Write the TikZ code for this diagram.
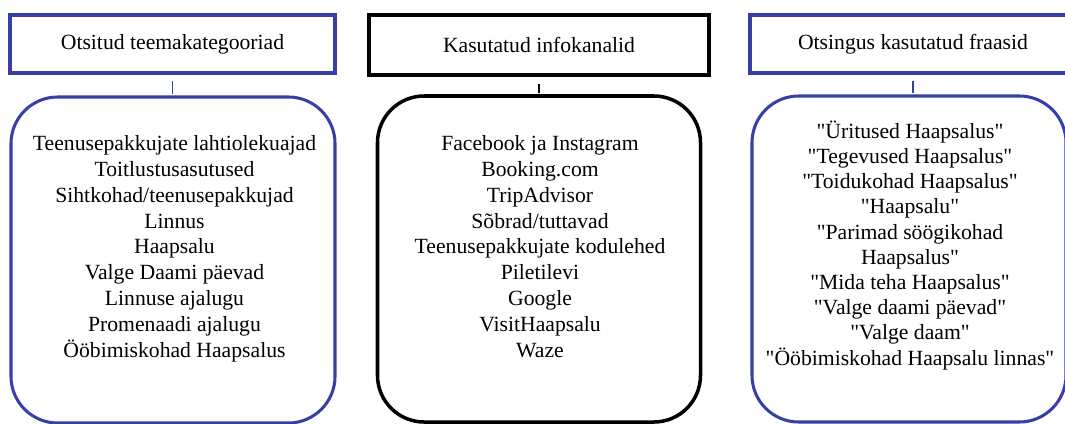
\documentclass[tikz,border=0pt]{standalone}
\usepackage{fontspec}
\setmainfont{Liberation Serif}[Ligatures=TeXOff]
\usepackage{tikz}
\definecolor{kastsinine}{RGB}{55,62,165}

\begin{document}
\begin{tikzpicture}[x=0.03cm, y=-0.03cm]
\tikzset{
  pealkiri/.style={draw=#1, line width=2.8pt, inner sep=0pt, font=\fontsize{18.5}{22}\selectfont},
  kaar/.style={draw=#1, line width=2.6pt, rounded corners=1.4cm, inner sep=0pt, minimum height=9.78cm},
  loetelu/.style={align=center, inner sep=0pt, anchor=base, font=\fontsize{18.5}{22}\selectfont},
  yhendus/.style={draw=#1, line width=1.3pt, shorten <=0.2cm, shorten >=0.05cm}
}
\clip (0,0) rectangle (1065,424);

%Pealkirjad
\node[pealkiri=kastsinine, minimum width=9.75cm, minimum height=1.74cm] (teemad) at (172.5,44) {Otsitud teemakategooriad};
\node[pealkiri=black, line width=3.6pt, minimum width=10.2cm, minimum height=1.8cm] (kanalid) at (539,45) {Kasutatud infokanalid};
\node[pealkiri=kastsinine, minimum width=9.78cm, minimum height=1.74cm] (fraasid) at (913,44) {Otsingus kasutatud fraasid};

%Ymarkastid
\node[kaar=kastsinine, minimum width=9.72cm] (teemadkast) at (173,260) {};
\node[kaar=black, line width=3pt, minimum width=9.69cm] (kanalidkast) at (539,259) {};
\node[kaar=kastsinine, minimum width=9.42cm] (fraasidkast) at (909,259) {};

\draw[yhendus=kastsinine] (teemad.south) -- (teemad.south |- teemadkast.north);
\draw[yhendus=black, line width=1.7pt] (kanalid.south) -- (kanalid.south |- kanalidkast.north);
\draw[yhendus=kastsinine] (fraasid.south) -- (fraasid.south |- fraasidkast.north);

%Loetelud (base = viimase rea alusjoon)
\node[loetelu] (teemadtekst) at (174.5,357) {Teenusepakkujate lahtiolekuajad\\ Toitlustusasutused\\ Sihtkohad/teenusepakkujad\\ Linnus\\ Haapsalu\\ Valge Daami päevad\\ Linnuse ajalugu\\ Promenaadi ajalugu\\ Ööbimiskohad Haapsalus};
\node[loetelu] (kanalidtekst) at (540,357) {Facebook ja Instagram\\ Booking.com\\ TripAdvisor\\ Sõbrad/tuttavad\\ Teenusepakkujate kodulehed\\ Piletilevi\\ Google\\ VisitHaapsalu\\ Waze};
\node[loetelu, font=\fontsize{18.5}{21.5}\selectfont] (fraasidtekst) at (910,365) {"Üritused Haapsalus"\\ "Tegevused Haapsalus"\\ "Toidukohad Haapsalus"\\ "Haapsalu"\\ "Parimad söögikohad\\ Haapsalus"\\ "Mida teha Haapsalus"\\ "Valge daami päevad"\\ "Valge daam"\\ "Ööbimiskohad Haapsalu linnas"};
\end{tikzpicture}
\end{document}
